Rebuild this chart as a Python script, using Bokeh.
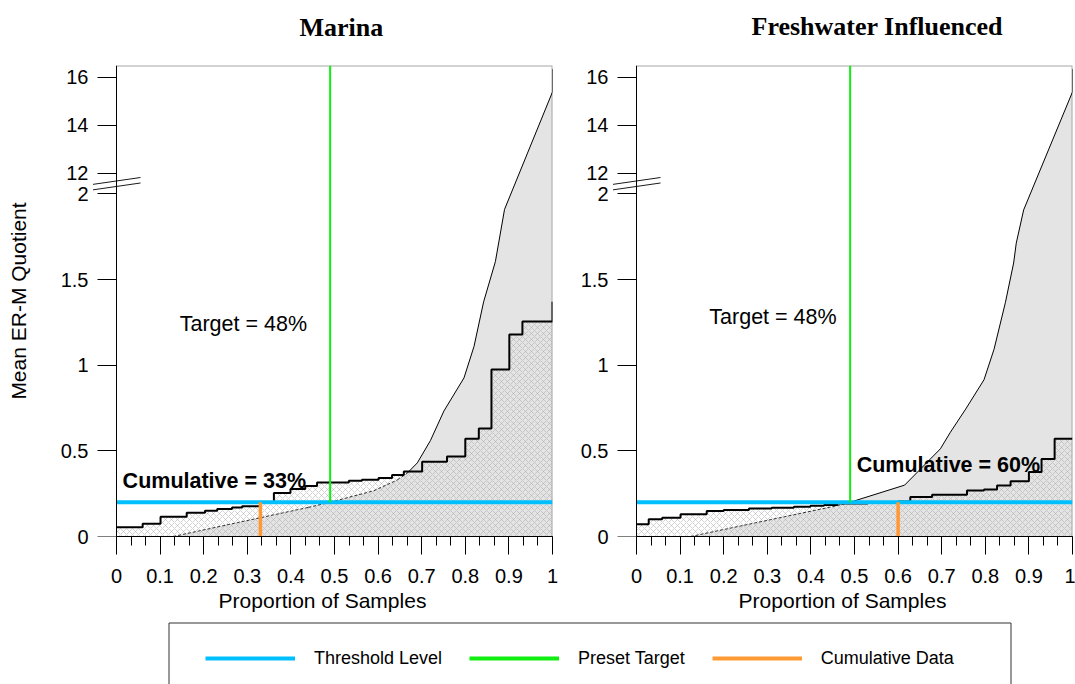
import numpy as np
from bokeh.plotting import figure
from bokeh.models import (Range1d, FixedTicker, CustomJSTickFormatter, Label,
                          Title, Legend, LegendItem, LinearAxis)
from bokeh.layouts import column, row
from bokeh.embed import file_html
from bokeh.resources import INLINE

# ---------------- data ----------------
panel_titles = ["Marina", "Freshwater Influenced"]
threshold = 0.2
target = 0.49
target_text = "Target = 48%"
cumulative = [0.33, 0.60]
cumulative_text = ["Cumulative = 33%", "Cumulative = 60%"]

# cumulative (sorted) sample values as a step function
marina_step_x = [0.0, 0.060, 0.101, 0.161, 0.203, 0.231, 0.265, 0.288, 0.330, 0.361, 0.399,
                 0.433, 0.460, 0.533, 0.563, 0.601, 0.632, 0.659, 0.701, 0.758, 0.800,
                 0.831, 0.860, 0.901, 0.931, 1.0]
marina_step_y = [0.054, 0.074, 0.116, 0.138, 0.151, 0.161, 0.169, 0.176, 0.200, 0.254, 0.277,
                 0.295, 0.316, 0.326, 0.331, 0.341, 0.359, 0.380, 0.436, 0.467, 0.570,
                 0.630, 0.975, 1.180, 1.256, 1.370]
fresh_step_x = [0.0, 0.028, 0.059, 0.101, 0.161, 0.200, 0.258, 0.310, 0.361, 0.399, 0.430,
                0.460, 0.530, 0.600, 0.628, 0.678, 0.758, 0.797, 0.827, 0.858, 0.900,
                0.929, 0.959, 1.0]
fresh_step_y = [0.072, 0.101, 0.110, 0.130, 0.149, 0.155, 0.163, 0.168, 0.173, 0.180, 0.184,
                0.193, 0.197, 0.205, 0.230, 0.244, 0.269, 0.275, 0.298, 0.322, 0.376,
                0.453, 0.570, 0.570]

# reference curve (upper edge of the grey area)
marina_curve_x = [0.0, 0.13, 0.44, 0.49, 0.59, 0.644, 0.667, 0.69, 0.72, 0.751, 0.797,
                  0.82, 0.842, 0.869, 0.89, 1.0, 1.0]
marina_curve_y = [0.0, 0.0, 0.17, 0.2, 0.267, 0.33, 0.37, 0.43, 0.56, 0.733, 0.926,
                  1.11, 1.37, 1.605, 1.91, 15.4, 16.35]
fresh_curve_x = [0.0, 0.124, 0.46, 0.49, 0.615, 0.697, 0.72, 0.755, 0.797, 0.82, 0.846,
                 0.865, 0.871, 0.888, 1.0, 1.0]
fresh_curve_y = [0.0, 0.0, 0.18, 0.2, 0.30, 0.512, 0.609, 0.744, 0.915, 1.093, 1.365,
                 1.597, 1.713, 1.907, 15.4, 16.35]

x_ticks = [0.0, 0.1, 0.2, 0.3, 0.4, 0.5, 0.6, 0.7, 0.8, 0.9, 1.0]
x_minor_ticks = [i / 30 for i in range(31)]
y_ticks_low = [0.0, 0.5, 1.0, 1.5, 2.0]
y_ticks_high = [12, 14, 16]
y_top = 16.5

legend_labels = ["Threshold Level", "Preset Target", "Cumulative Data"]

# label anchor positions (data units) per panel
target_label_pos = [(0.145, 1.238), (0.167, 1.279)]
cum_label_pos = [(0.014, 0.326), (0.505, 0.419)]

# ---------------- styles ----------------
BLUE = "#00BFFF"
GREEN = "#11EE11"
ORANGE = "#FF9933"
GREY = "#E4E4E4"
FONT = "Liberation Sans"
SERIF = "Liberation Serif"
PX_PER_UNIT = 436.0          # horizontal frame scale
X_PAD = 24 / PX_PER_UNIT     # room left of the y axis for the break marks

# broken axis: 0..2 linear, then 12..16.5 compressed above a gap
LOW_MAX = 2.0
HIGH_MIN = 12.0
HIGH_START = 2.12
HIGH_SCALE = 0.14


def tr(v):
    v = np.asarray(v, dtype=float)
    return np.where(v <= LOW_MAX, v, HIGH_START + (v - HIGH_MIN) * HIGH_SCALE)


def step_value(sx, sy, x):
    idx = np.searchsorted(sx, x, side="right") - 1
    idx = np.clip(idx, 0, len(sy) - 1)
    return np.asarray(sy)[idx]


def y_formatter():
    return CustomJSTickFormatter(
        args=dict(lo=LOW_MAX, hs=HIGH_START, sc=HIGH_SCALE, hm=HIGH_MIN),
        code="if (tick > lo + 0.01) { return String(Math.round(hm + (tick - hs) / sc)); }"
             " return String(Math.round(tick*10)/10);")


def build_panel(i, step_x, step_y, curve_x, curve_y, width, min_left, min_right,
                min_top, min_bottom, title_offset, title_gap, show_ylabel):
    y_max = float(tr(y_top))
    p = figure(width=width, height=616, x_range=Range1d(-X_PAD, 1),
               y_range=Range1d(0, y_max),
               toolbar_location=None, output_backend="svg",
               min_border_left=min_left, min_border_right=min_right,
               min_border_top=min_top, min_border_bottom=min_bottom)
    p.grid.visible = False
    p.outline_line_color = None
    p.background_fill_color = "white"
    p.border_fill_color = "white"

    p.title.text = ""
    p.title.visible = False
    # spacer (closest to the frame) then the real title
    p.add_layout(Title(text=" ", text_font_size="1px", standoff=title_gap), "above")
    p.add_layout(Title(text=panel_titles[i], align="left", offset=title_offset,
                       text_font=SERIF, text_font_style="bold", text_font_size="26px",
                       text_color="black", standoff=4), "above")

    # x axis
    xa = p.xaxis[0]
    xa.bounds = (0, 1)
    xa.ticker = FixedTicker(ticks=x_ticks, minor_ticks=x_minor_ticks)
    xa.formatter = CustomJSTickFormatter(code="return String(Math.round(tick*10)/10);")
    xa.major_tick_in = 0
    xa.major_tick_out = 18
    xa.minor_tick_in = 0
    xa.minor_tick_out = 9
    xa.major_label_standoff = 14
    xa.major_label_text_font = FONT
    xa.major_label_text_font_size = "20px"
    xa.major_label_text_color = "black"
    xa.axis_label = "Proportion of Samples"
    xa.axis_label_text_font = FONT
    xa.axis_label_text_font_size = "21px"
    xa.axis_label_text_font_style = "normal"
    xa.axis_label_text_color = "black"
    xa.axis_label_standoff = 3
    xa.axis_line_color = "black"
    xa.major_tick_line_color = "black"
    xa.minor_tick_line_color = "black"

    yt = [round(float(v), 6) for v in tr(y_ticks_low + y_ticks_high)]

    # y axis line + ticks, placed at x = 0 (labels come from a second axis)
    ya = p.yaxis[0]
    ya.fixed_location = 0
    ya.ticker = FixedTicker(ticks=yt, minor_ticks=[])
    ya.formatter = CustomJSTickFormatter(code="return '';")
    ya.major_tick_in = 0
    ya.major_tick_out = 19
    ya.axis_line_color = "black"
    ya.major_tick_line_color = "black"

    # labels-only axis in the left border
    yl = LinearAxis(ticker=FixedTicker(ticks=yt, minor_ticks=[]), formatter=y_formatter(),
                    axis_line_color=None, major_tick_line_color=None,
                    minor_tick_line_color=None, major_tick_in=0, major_tick_out=0,
                    major_label_standoff=4, major_label_text_font=FONT,
                    major_label_text_font_size="20px", major_label_text_color="black")
    if show_ylabel:
        yl.axis_label = "Mean ER-M Quotient"
        yl.axis_label_text_font = FONT
        yl.axis_label_text_font_size = "21px"
        yl.axis_label_text_font_style = "normal"
        yl.axis_label_text_color = "black"
        yl.axis_label_standoff = 28
    p.add_layout(yl, "left")

    cx = np.asarray(curve_x, dtype=float)
    cy = tr(curve_y)
    # grey area under reference curve
    p.varea(x=cx, y1=0, y2=cy, fill_color=GREY, fill_alpha=1)

    # hatched area under step function
    sx = np.asarray(step_x, dtype=float)
    sy = np.asarray(step_y, dtype=float)
    px = np.repeat(sx, 2)[1:]
    py = np.repeat(sy, 2)[:-1]
    p.varea(x=px, y1=0, y2=tr(py), fill_alpha=0, hatch_pattern="diagonal_cross",
            hatch_color="#A0A0A0", hatch_alpha=0.75, hatch_scale=6, hatch_weight=0.6)

    # frame top / right edges (light grey)
    p.line(x=[0, 1, 1], y=[y_max, y_max, 0], line_color="#A8A8A8", line_width=2)

    # curve: dashed where below the step line, solid elsewhere
    dashed_xs, dashed_ys, solid_xs, solid_ys = [], [], [], []
    for k in range(len(cx) - 1):
        xm = 0.5 * (cx[k] + cx[k + 1])
        ym = 0.5 * (curve_y[k] + curve_y[k + 1])
        seg_x = [cx[k], cx[k + 1]]
        seg_y = [cy[k], cy[k + 1]]
        if ym < step_value(sx, sy, xm):
            dashed_xs.append(seg_x); dashed_ys.append(seg_y)
        else:
            solid_xs.append(seg_x); solid_ys.append(seg_y)
    p.multi_line(xs=dashed_xs, ys=dashed_ys, line_color="black", line_width=0.8,
                 line_dash="3 2")
    p.multi_line(xs=solid_xs, ys=solid_ys, line_color="black", line_width=1)

    # step line
    p.step(x=sx, y=tr(sy), mode="after", line_color="black", line_width=2)

    # threshold, target, cumulative
    p.line(x=[0, 1], y=[threshold, threshold], line_color=BLUE, line_width=4)
    p.line(x=[target, target], y=[threshold, y_max], line_color=GREEN, line_width=2)
    p.line(x=[cumulative[i], cumulative[i]], y=[0, threshold], line_color=ORANGE,
           line_width=3.5)

    tx, ty = target_label_pos[i]
    p.add_layout(Label(x=tx, y=ty, text=target_text, text_font=FONT,
                       text_font_size="21.5px",
                       text_baseline="middle", text_align="left", text_color="black"))
    qx, qy = cum_label_pos[i]
    p.add_layout(Label(x=qx, y=qy, text=cumulative_text[i], text_font=FONT,
                       text_font_size="21.5px", text_font_style="bold",
                       text_baseline="middle", text_align="left", text_color="black"))

    # axis break marks: two thin slanted bars crossing the axis
    mid = 0.5 * (LOW_MAX + HIGH_START)
    d = np.array([-0.016, 0.016])
    p.segment(x0=np.full(2, -X_PAD * 0.98), y0=mid + d - 0.02,
              x1=np.full(2, X_PAD), y1=mid + d + 0.02,
              line_color="black", line_width=0.9)
    return p


p1 = build_panel(0, marina_step_x, marina_step_y, marina_curve_x, marina_curve_y,
                 width=566, min_left=92, min_right=14, min_top=63, min_bottom=80,
                 title_offset=207, title_gap=19, show_ylabel=True)
p2 = build_panel(1, fresh_step_x, fresh_step_y, fresh_curve_x, fresh_curve_y,
                 width=509, min_left=46, min_right=3, min_top=65, min_bottom=78,
                 title_offset=139, title_gap=20, show_ylabel=False)

# legend strip
LH = 68
p3 = figure(width=1075, height=LH, x_range=Range1d(0, 1075), y_range=Range1d(0, LH),
            toolbar_location=None, output_backend="svg", min_border=0,
            x_axis_location=None, y_axis_location=None)
p3.grid.visible = False
p3.outline_line_color = None
p3.line(x=[168.5, 168.5, 1010.5, 1010.5], y=[-5, LH - 6.5, LH - 6.5, -5],
        line_color="#333333", line_width=1)
r_b = p3.line(x=[-20, -10], y=[-20, -20], line_color=BLUE, line_width=4)
r_g = p3.line(x=[-20, -10], y=[-20, -20], line_color=GREEN, line_width=4)
r_o = p3.line(x=[-20, -10], y=[-20, -20], line_color=ORANGE, line_width=4)
leg = Legend(items=[LegendItem(label=legend_labels[0], renderers=[r_b]),
                    LegendItem(label=legend_labels[1], renderers=[r_g]),
                    LegendItem(label=legend_labels[2], renderers=[r_o])],
             orientation="horizontal", location=(205, 15), glyph_width=90, glyph_height=22,
             label_height=22, label_standoff=19, spacing=27, padding=0, margin=0,
             border_line_color=None, background_fill_alpha=0,
             label_text_font=FONT, label_text_font_size="18px", label_text_color="black")
p3.add_layout(leg)

layout = column(row(p1, p2), p3)
open("out.html", "w").write(file_html(layout, INLINE))
